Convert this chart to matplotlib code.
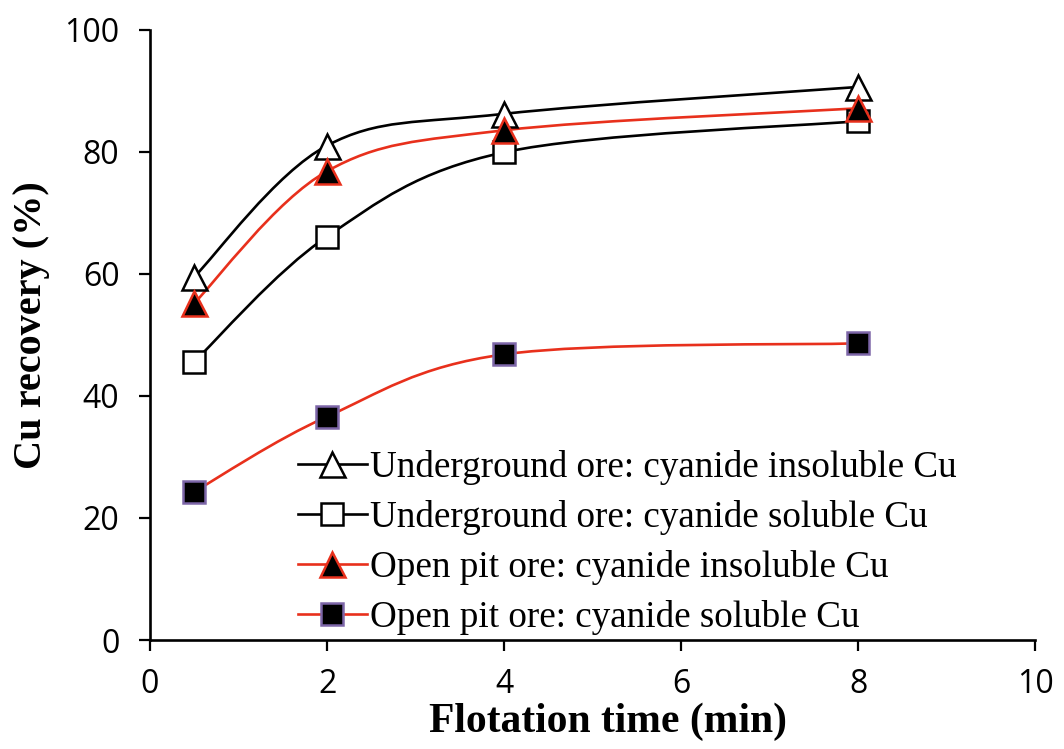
import numpy as np
import matplotlib
matplotlib.use('Agg')
import matplotlib.pyplot as plt
from matplotlib.path import Path
from matplotlib.patches import PathPatch
from matplotlib.lines import Line2D

# flotation times (min)
time = [0.5, 2, 4, 8]

# Cu recovery (%)
ug_insol = [59.5, 81.0, 86.2, 90.6]
ug_sol = [45.6, 66.1, 79.9, 85.0]
op_insol = [55.2, 76.8, 83.5, 87.1]
op_sol = [24.3, 36.6, 46.8, 48.6]

labels = ['Underground ore: cyanide insoluble Cu',
          'Underground ore: cyanide soluble Cu',
          'Open pit ore: cyanide insoluble Cu',
          'Open pit ore: cyanide soluble Cu']

red = '#e8301c'
purple = '#7d66a8'

# marker, face colour, edge colour, line colour
styles = [('^', 'white', 'black', 'black'),
          ('s', 'white', 'black', 'black'),
          ('^', 'black', red, red),
          ('s', 'black', purple, red)]


def smooth_path(x, y):
    # catmull-rom style smoothing turned into cubic bezier segments
    pts = np.column_stack([x, y]).astype(float)
    n = len(pts)
    verts = [pts[0]]
    codes = [Path.MOVETO]
    for i in range(n - 1):
        p0 = pts[i - 1] if i > 0 else pts[i]
        p1 = pts[i]
        p2 = pts[i + 1]
        p3 = pts[i + 2] if i + 2 < n else pts[i + 1]
        c1 = p1 + (p2 - p0) / 6.0
        c2 = p2 - (p3 - p1) / 6.0
        verts += [c1, c2, p2]
        codes += [Path.CURVE4] * 3
    return Path(verts, codes)


fig = plt.figure(figsize=(10.64, 7.49), dpi=100)
ax = fig.add_axes([0.141, 0.1455, 0.832, 0.815])

series = [ug_insol, ug_sol, op_insol, op_sol]
handles = []
for vals, (mk, fc, ec, lc), lab in zip(series, styles, labels):
    ax.add_patch(PathPatch(smooth_path(time, vals), facecolor='none',
                           edgecolor=lc, lw=1.9, zorder=2))
    ms = 18 if mk == '^' else 16
    ax.plot(time, vals, linestyle='none', marker=mk, markersize=ms,
            markerfacecolor=fc, markeredgecolor=ec, markeredgewidth=1.8,
            zorder=3)
    handles.append(Line2D([], [], color=lc, lw=1.9, marker=mk, markersize=ms,
                          markerfacecolor=fc, markeredgecolor=ec,
                          markeredgewidth=1.8))

ax.set_xlim(0, 10)
ax.set_ylim(0, 100)
ax.set_xticks(range(0, 11, 2))
ax.set_yticks(range(0, 101, 20))

for s in ['top', 'right']:
    ax.spines[s].set_visible(False)
for s in ['left', 'bottom']:
    ax.spines[s].set_linewidth(1.9)

ax.tick_params(direction='out', length=8, width=1.6, labelsize=23)
ax.tick_params(axis='y', pad=14)
ax.tick_params(axis='x', pad=12)
for t in ax.get_xticklabels() + ax.get_yticklabels():
    t.set_fontfamily('Open Sans')

ax.set_xlabel('Flotation time (min)', fontfamily='Liberation Serif',
              fontweight='bold', fontsize=30)
ax.set_ylabel('Cu recovery (%)', fontfamily='Liberation Serif',
              fontweight='bold', fontsize=29)
ax.xaxis.set_label_coords(0.517, -0.103)
ax.yaxis.set_label_coords(-0.113, 0.516)

ax.legend(handles, labels, loc='lower left', bbox_to_anchor=(0.138, -0.034),
          frameon=False, handlelength=1.85, handletextpad=0.1,
          labelspacing=0.4, borderaxespad=0.3,
          prop={'family': 'Liberation Serif', 'size': 26.7})

fig.savefig('out.png', dpi=100)
